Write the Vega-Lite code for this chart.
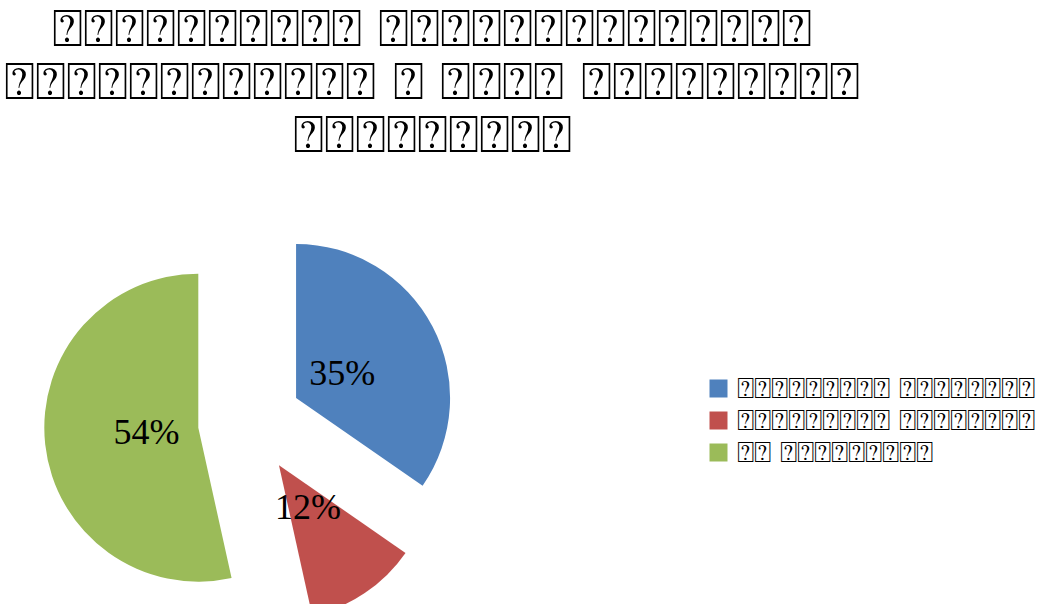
{
  "$schema": "https://vega.github.io/schema/vega-lite/v6.json",
  "autosize": {"type": "none"},
  "width": 500,
  "height": 340,
  "padding": {"left": 0, "top": 252, "right": 548, "bottom": 12},
  "background": "white",
  "title": {
    "text": [
      "⍰⍰⍰⍰⍰⍰⍰⍰⍰⍰ ⍰⍰⍰⍰⍰⍰⍰⍰⍰⍰⍰⍰⍰⍰",
      "⍰⍰⍰⍰⍰⍰⍰⍰⍰⍰⍰⍰ ⍰ ⍰⍰⍰⍰ ⍰⍰⍰⍰⍰⍰⍰⍰⍰",
      "⍰⍰⍰⍰⍰⍰⍰⍰⍰"
    ],
    "font": "DejaVu Sans",
    "fontSize": 52,
    "fontWeight": "normal",
    "lineHeight": 53,
    "anchor": "middle",
    "dx": 182,
    "offset": 81,
    "color": "black"
  },
  "data": {
    "values": [
      {"cat": "A", "value": 35, "label": "35%"},
      {"cat": "B", "value": 12, "label": "12%"},
      {"cat": "C", "value": 54, "label": "54%"}
    ]
  },
  "encoding": {
    "theta": {"field": "value", "type": "quantitative", "stack": true},
    "order": {"field": "cat"}
  },
  "layer": [
    {
      "mark": {
        "type": "arc",
        "radius": 154,
        "xOffset": {"expr": "52*sin(scale('theta', (datum.value_start+datum.value_end)/2))"},
        "yOffset": {"expr": "-52*cos(scale('theta', (datum.value_start+datum.value_end)/2))"}
      },
      "encoding": {
        "color": {
          "field": "cat",
          "type": "nominal",
          "scale": {"domain": ["A", "B", "C"], "range": ["#4F81BD", "#C0504D", "#9BBB59"]},
          "legend": {
            "orient": "none",
            "legendX": 704,
            "legendY": 122,
            "title": null,
            "symbolType": "square",
            "symbolSize": 324,
            "symbolStrokeWidth": 0,
            "labelFont": "DejaVu Sans",
            "labelFontSize": 29,
            "labelColor": "black",
            "labelOffset": 4,
            "rowPadding": 2,
            "labelLimit": 0,
            "labelExpr": "datum.label == 'A' ? '⍰⍰⍰⍰⍰⍰⍰⍰⍰ ⍰⍰⍰⍰⍰⍰⍰⍰' : datum.label == 'B' ? '⍰⍰⍰⍰⍰⍰⍰⍰⍰ ⍰⍰⍰⍰⍰⍰⍰⍰' : '⍰⍰ ⍰⍰⍰⍰⍰⍰⍰⍰⍰'"
          }
        }
      }
    },
    {
      "mark": {"type": "text", "radius": 104, "font": "Liberation Serif", "fontSize": 36, "color": "black"},
      "encoding": {
        "text": {"field": "label", "type": "nominal"}
      }
    }
  ],
  "config": {"view": {"stroke": null}}
}
